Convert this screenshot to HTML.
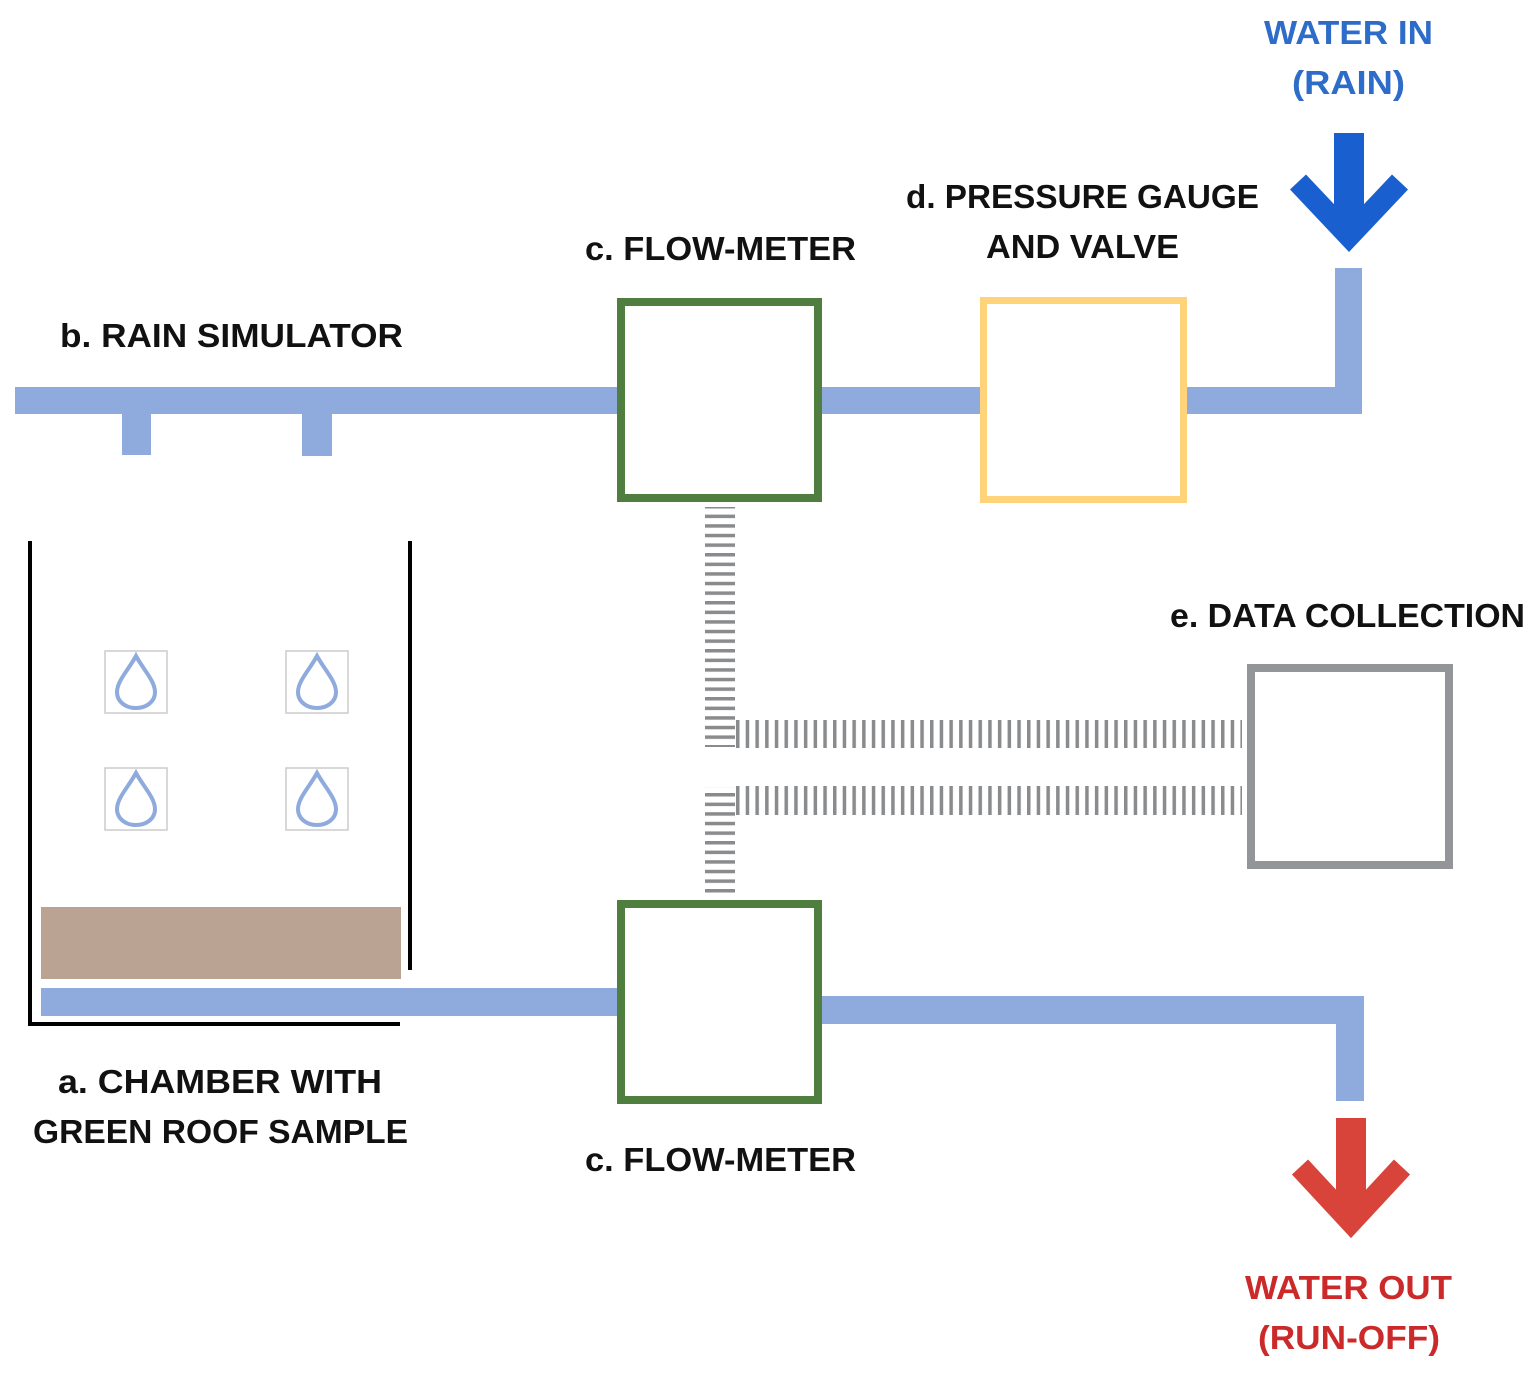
<!DOCTYPE html>
<html><head><style>body{margin:0;background:#fff}svg text{font-family:"Liberation Sans",sans-serif;font-weight:bold;font-size:33px}</style></head>
<body>
<svg width="1529" height="1372" viewBox="0 0 1529 1372" xmlns="http://www.w3.org/2000/svg">
<defs>
<pattern id="hd" x="0" y="505" width="30" height="9.6" patternUnits="userSpaceOnUse"><rect x="0" y="0" width="30" height="3.5" fill="#8a8b8d"/></pattern>
<pattern id="vd" x="736" y="0" width="9.7" height="40" patternUnits="userSpaceOnUse"><rect x="0" y="0" width="3.5" height="40" fill="#8a8b8d"/></pattern>
</defs>
<!-- pipes -->
<g fill="#8faadc">
<rect x="15" y="387" width="602" height="27"/>
<rect x="122" y="414" width="29" height="41"/>
<rect x="302" y="414" width="30" height="42"/>
<rect x="822" y="387" width="158" height="27"/>
<rect x="1187" y="387" width="175" height="27"/>
<rect x="1335" y="268" width="27" height="146"/>
<rect x="41" y="988" width="576" height="28"/>
<rect x="822" y="996" width="542" height="28"/>
<rect x="1336" y="996" width="28" height="105"/>
</g>
<!-- connectors -->
<rect x="705" y="507" width="30" height="240" fill="url(#hd)"/>
<rect x="705" y="787" width="30" height="108" fill="url(#hd)"/>
<rect x="736" y="720" width="506" height="28" fill="url(#vd)"/>
<rect x="736" y="786" width="506" height="29" fill="url(#vd)"/>
<!-- boxes -->
<rect x="621" y="302" width="197" height="196" fill="#fff" stroke="#507e3e" stroke-width="8"/>
<rect x="983.5" y="300.5" width="200" height="199" fill="#fff" stroke="#ffd37a" stroke-width="7"/>
<rect x="1251" y="668" width="198" height="197" fill="#fff" stroke="#939598" stroke-width="8"/>
<rect x="621" y="904" width="197" height="196" fill="#fff" stroke="#507e3e" stroke-width="8"/>
<!-- chamber -->
<g stroke="#000" stroke-width="4" fill="none">
<line x1="30" y1="541" x2="30" y2="1026"/>
<line x1="410" y1="541" x2="410" y2="970"/>
<line x1="28" y1="1024" x2="400" y2="1024"/>
</g>
<rect x="41" y="907" width="360" height="72" fill="#bba393"/>
<!-- drops -->
<g>
<g transform="translate(105,651)"><rect width="62" height="62" fill="#fff" stroke="#ccc" stroke-width="1.5"/><path d="M31 5 C24 18 12 30 12 41 C12 51 21 57 31 57 C41 57 50 51 50 41 C50 30 38 18 31 5Z" fill="none" stroke="#8faadc" stroke-width="4"/></g>
<g transform="translate(286,651)"><rect width="62" height="62" fill="#fff" stroke="#ccc" stroke-width="1.5"/><path d="M31 5 C24 18 12 30 12 41 C12 51 21 57 31 57 C41 57 50 51 50 41 C50 30 38 18 31 5Z" fill="none" stroke="#8faadc" stroke-width="4"/></g>
<g transform="translate(105,768)"><rect width="62" height="62" fill="#fff" stroke="#ccc" stroke-width="1.5"/><path d="M31 5 C24 18 12 30 12 41 C12 51 21 57 31 57 C41 57 50 51 50 41 C50 30 38 18 31 5Z" fill="none" stroke="#8faadc" stroke-width="4"/></g>
<g transform="translate(286,768)"><rect width="62" height="62" fill="#fff" stroke="#ccc" stroke-width="1.5"/><path d="M31 5 C24 18 12 30 12 41 C12 51 21 57 31 57 C41 57 50 51 50 41 C50 30 38 18 31 5Z" fill="none" stroke="#8faadc" stroke-width="4"/></g>
</g>
<!-- arrows -->
<rect x="1334" y="133" width="30" height="100" fill="#1a5fd0"/>
<polyline points="1298,182 1349,236 1400,182" fill="none" stroke="#1a5fd0" stroke-width="22"/>
<rect x="1336" y="1118" width="30" height="95" fill="#d9443a"/>
<polyline points="1300,1167 1351,1222 1402,1167" fill="none" stroke="#d9443a" stroke-width="22"/>
<!-- text -->
<g fill="#111">
<text x="60" y="347" textLength="343" lengthAdjust="spacingAndGlyphs">b. RAIN SIMULATOR</text>
<text x="585" y="260" textLength="271" lengthAdjust="spacingAndGlyphs">c. FLOW-METER</text>
<text x="585" y="1171" textLength="271" lengthAdjust="spacingAndGlyphs">c. FLOW-METER</text>
<text x="906" y="208" textLength="353" lengthAdjust="spacingAndGlyphs">d. PRESSURE GAUGE</text>
<text x="986" y="258" textLength="193" lengthAdjust="spacingAndGlyphs">AND VALVE</text>
<text x="1170" y="627" textLength="355" lengthAdjust="spacingAndGlyphs">e. DATA COLLECTION</text>
<text x="58" y="1093" textLength="324" lengthAdjust="spacingAndGlyphs">a. CHAMBER WITH</text>
<text x="33" y="1143" textLength="375" lengthAdjust="spacingAndGlyphs">GREEN ROOF SAMPLE</text>
</g>
<text x="1264" y="44" fill="#2d6cc8" textLength="169" lengthAdjust="spacingAndGlyphs">WATER IN</text>
<text x="1292" y="94" fill="#2d6cc8" textLength="113" lengthAdjust="spacingAndGlyphs">(RAIN)</text>
<text x="1245" y="1299" fill="#cc2a2a" textLength="207" lengthAdjust="spacingAndGlyphs">WATER OUT</text>
<text x="1258" y="1349" fill="#cc2a2a" textLength="182" lengthAdjust="spacingAndGlyphs">(RUN-OFF)</text>
</svg>
</body></html>
